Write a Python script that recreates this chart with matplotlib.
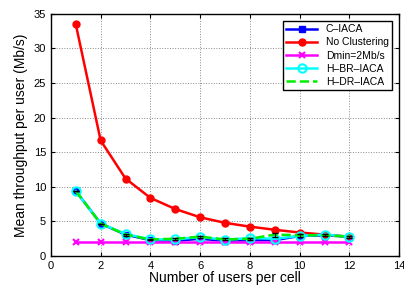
import numpy as np
import matplotlib.pyplot as plt

plt.rcParams['font.family'] = ['Liberation Sans', 'DejaVu Sans']

users = np.arange(1, 13)

c_iaca = [9.4, 4.7, 3.1, 2.3, 2.2, 2.5, 2.2, 2.3, 2.3, 2.9, 3.0, 2.8]
no_clustering = [33.5, 16.7, 11.2, 8.4, 6.8, 5.6, 4.8, 4.25, 3.8, 3.4, 3.1, 2.8]
dmin = [2.0] * 12
h_br_iaca = [9.4, 4.7, 3.2, 2.4, 2.4, 2.75, 2.35, 2.6, 2.5, 2.9, 3.1, 2.8]
h_dr_iaca = [9.4, 4.7, 3.1, 2.4, 2.5, 2.8, 2.4, 2.5, 3.1, 3.0, 3.0, 2.8]
h_dr_err = [0.0, 0.0, 0.15, 0.1, 0.15, 0.15, 0.15, 0.15, 0.3, 0.2, 0.15, 0.15]

fig = plt.figure(figsize=(4.04, 2.89), dpi=100)
ax = fig.add_axes([0.126, 0.114, 0.862, 0.838])

ax.plot(users, c_iaca, '-s', color='blue', lw=1.8, ms=4, label='C\u2013IACA')
ax.plot(users, no_clustering, '-o', color='red', lw=1.8, ms=5, label='No Clustering')
ax.plot(users, dmin, '-x', color='magenta', lw=1.8, ms=4, mew=1.5, label='Dmin=2Mb/s')
ax.plot(users, h_br_iaca, '-o', color='cyan', lw=1.8, ms=6, mfc='none', mew=1.5,
        label='H\u2013BR\u2013IACA')
ax.plot(users, h_dr_iaca, '--', color='#00ee00', lw=1.8, label='H\u2013DR\u2013IACA')
ax.errorbar(users, h_dr_iaca, yerr=h_dr_err, fmt='none', ecolor='black',
            elinewidth=0.8, capsize=2)

ax.set_xlim(0, 14)
ax.set_ylim(0, 35)
ax.set_xticks(np.arange(0, 15, 2))
ax.set_yticks(np.arange(0, 36, 5))
ax.tick_params(direction='in', top=True, right=True, labelsize=8, length=3)
for s in ax.spines.values():
    s.set_linewidth(1.0)
ax.grid(True, linestyle=':', color='#888888', lw=0.7)
ax.set_xlabel('Number of users per cell', fontsize=10, labelpad=0)
ax.set_ylabel('Mean throughput per user (Mb/s)', fontsize=10, labelpad=4)

leg = ax.legend(loc='upper right', fontsize=7.5, fancybox=False, framealpha=1,
                edgecolor='black', borderaxespad=0.7, handlelength=3,
                labelspacing=0.3, borderpad=0.3)
leg.get_frame().set_linewidth(1.0)

fig.savefig('out.png', dpi=100)
